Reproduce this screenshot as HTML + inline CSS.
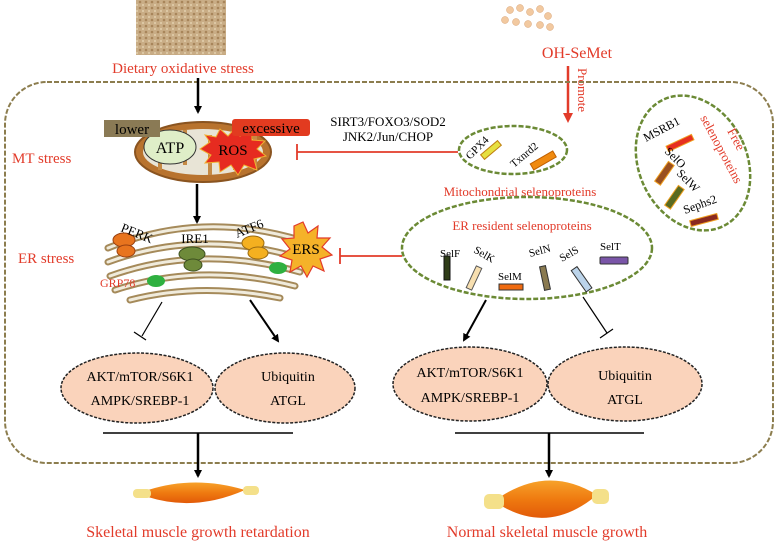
<!DOCTYPE html>
<html><head><meta charset="utf-8"><style>
html,body{margin:0;padding:0;background:#fff}
svg{display:block}
text{font-family:"Liberation Serif",serif}
.r{fill:#e23b2a}
</style></head><body>
<svg width="778" height="544" viewBox="0 0 778 544" xmlns="http://www.w3.org/2000/svg">
<defs>
<marker id="ab" markerWidth="8" markerHeight="8" refX="6" refY="4" orient="auto" markerUnits="userSpaceOnUse"><path d="M0,0 L8,4 L0,8 z" fill="#000"/></marker>
<marker id="ar" markerWidth="10" markerHeight="10" refX="7" refY="5" orient="auto" markerUnits="userSpaceOnUse"><path d="M0,0 L10,5 L0,10 z" fill="#e23b2a"/></marker>
<linearGradient id="mus" x1="0" y1="0" x2="0" y2="1"><stop offset="0" stop-color="#f7a22a"/><stop offset="0.5" stop-color="#ef7a10"/><stop offset="1" stop-color="#e25a08"/></linearGradient>
<pattern id="grain" width="6" height="6" patternUnits="userSpaceOnUse"><rect width="6" height="6" fill="#c9ad86"/><circle cx="2" cy="2" r="1.3" fill="#a8855a"/><circle cx="5" cy="5" r="1" fill="#e2cfae"/></pattern>
</defs>

<rect x="136" y="0" width="90" height="55" fill="url(#grain)"/>
<text x="183" y="73" class="r" font-size="15" text-anchor="middle">Dietary oxidative stress</text>
<g fill="#f2c9a0" stroke="#d9a070" stroke-width="0.5">
<circle cx="510" cy="10" r="3.5"/><circle cx="520" cy="8" r="3.5"/><circle cx="530" cy="12" r="3.5"/><circle cx="540" cy="9" r="3.5"/><circle cx="548" cy="16" r="3.5"/><circle cx="505" cy="20" r="3.5"/><circle cx="516" cy="22" r="3.5"/><circle cx="528" cy="24" r="3.5"/><circle cx="540" cy="25" r="3.5"/><circle cx="550" cy="27" r="3.5"/></g>
<text x="577" y="58" class="r" font-size="16" text-anchor="middle">OH-SeMet</text>
<line x1="568" y1="66" x2="568" y2="120" stroke="#e23b2a" stroke-width="2.5" marker-end="url(#ar)"/>
<text transform="translate(578,68) rotate(90)" class="r" font-size="13">Promote</text>

<rect x="5" y="82" width="768" height="381" rx="42" fill="none" stroke="#8c7d4e" stroke-width="2" stroke-dasharray="5,2"/>

<text x="12" y="163" class="r" font-size="15">MT stress</text>
<text x="18" y="263" class="r" font-size="15">ER stress</text>

<line x1="198" y1="78" x2="198" y2="112" stroke="#000" stroke-width="2.5" marker-end="url(#ab)"/>

<!-- mitochondrion -->
<ellipse cx="203" cy="152" rx="68" ry="30" fill="#b8732e" stroke="#8a5420" stroke-width="2"/>
<ellipse cx="203" cy="152" rx="60" ry="23" fill="#e8e4d6"/>
<g stroke="#c58a45" stroke-width="4"><line x1="160" y1="130" x2="160" y2="170"/><line x1="185" y1="130" x2="185" y2="165"/><line x1="210" y1="135" x2="210" y2="175"/><line x1="235" y1="130" x2="235" y2="170"/><line x1="255" y1="135" x2="255" y2="170"/></g>
<ellipse cx="170" cy="147" rx="26" ry="17" fill="#dfeec8" stroke="#333" stroke-width="1"/>
<text x="170" y="153" font-size="16" text-anchor="middle">ATP</text>
<polygon points="200,149 210,142 205,135 216,137 220,129 228,136 235,128 240,136 252,131 252,140 265,141 257,149 266,156 254,159 257,170 244,165 238,175 231,165 220,172 219,162 205,163 211,155" fill="#e62b20" stroke="#f2b030" stroke-width="1"/>
<text x="233" y="155" font-size="15" text-anchor="middle">ROS</text>
<rect x="104" y="120" width="56" height="17" fill="#8a7a55"/>
<text x="132" y="134" font-size="15" text-anchor="middle">lower</text>
<rect x="232" y="119" width="78" height="17" rx="3" fill="#e23b20"/>
<text x="271" y="133" font-size="15" text-anchor="middle">excessive</text>

<line x1="297" y1="152" x2="458" y2="152" stroke="#e23b2a" stroke-width="1.8"/>
<line x1="297" y1="144" x2="297" y2="160" stroke="#e23b2a" stroke-width="1.8"/>
<text x="388" y="126" font-size="13" text-anchor="middle">SIRT3/FOXO3/SOD2</text>
<text x="388" y="141" font-size="13" text-anchor="middle">JNK2/Jun/CHOP</text>

<line x1="197" y1="184" x2="197" y2="222" stroke="#000" stroke-width="2.5" marker-end="url(#ab)"/>

<!-- ER -->
<g fill="none" stroke="#a58a5a" stroke-width="7" stroke-linecap="round">
<path d="M108,248 Q200,210 300,240" /><path d="M108,262 Q200,228 300,258"/><path d="M110,276 Q200,244 300,272"/><path d="M115,290 Q200,262 295,286"/><path d="M130,300 Q200,282 280,298"/></g>
<g fill="none" stroke="#f0ebdc" stroke-width="3" stroke-linecap="round">
<path d="M108,248 Q200,210 300,240" /><path d="M108,262 Q200,228 300,258"/><path d="M110,276 Q200,244 300,272"/><path d="M115,290 Q200,262 295,286"/><path d="M130,300 Q200,282 280,298"/></g>
<ellipse cx="124" cy="240" rx="11" ry="7" fill="#e8741e" stroke="#994010"/>
<ellipse cx="126" cy="251" rx="9" ry="6" fill="#e8741e" stroke="#994010"/>
<ellipse cx="192" cy="254" rx="13" ry="7" fill="#6e8a3a" stroke="#3d5020"/>
<ellipse cx="193" cy="265" rx="9" ry="6" fill="#6e8a3a" stroke="#3d5020"/>
<ellipse cx="253" cy="243" rx="11" ry="7" fill="#f4b020" stroke="#9a6a10"/>
<ellipse cx="258" cy="253" rx="10" ry="6" fill="#f4b020" stroke="#9a6a10"/>
<ellipse cx="156" cy="281" rx="9" ry="6" fill="#2fb040"/>
<ellipse cx="278" cy="268" rx="9" ry="6" fill="#2fb040"/>
<text transform="translate(120,231) rotate(22)" font-size="13">PERK</text>
<text x="195" y="243" font-size="13" text-anchor="middle">IRE1</text>
<text transform="translate(237,238) rotate(-22)" font-size="13">ATF6</text>
<text x="100" y="287" class="r" font-size="12">GRP78</text>
<polygon points="303,222 308,233 318,226 317,238 330,238 322,247 332,255 320,259 324,271 313,266 307,277 301,266 290,272 292,260 280,256 290,249 282,239 294,238 294,226" fill="#f5b229" stroke="#e23b2a" stroke-width="1.2"/>
<text x="306" y="254" font-size="15" text-anchor="middle">ERS</text>
<line x1="340" y1="256" x2="402" y2="256" stroke="#e23b2a" stroke-width="1.8"/>
<line x1="340" y1="248" x2="340" y2="264" stroke="#e23b2a" stroke-width="1.8"/>

<!-- mito selenoproteins -->
<ellipse cx="513" cy="150" rx="54" ry="24" fill="none" stroke="#6b8a35" stroke-width="2.5" stroke-dasharray="5,2"/>
<text transform="translate(470,160) rotate(-45)" font-size="11">GPX4</text>
<rect x="480" y="147" width="22" height="6" fill="#e6e040" stroke="#c08010" transform="rotate(-40 491 150)"/>
<text transform="translate(514,168) rotate(-40)" font-size="11">Txnrd2</text>
<rect x="530" y="157" width="26" height="7" fill="#f08a10" stroke="#c06000" transform="rotate(-30 543 160)"/>
<text x="520" y="196" class="r" font-size="13" text-anchor="middle">Mitochondrial selenoproteins</text>

<!-- free -->
<ellipse cx="693" cy="163" rx="54" ry="70" fill="none" stroke="#6b8a35" stroke-width="2.5" stroke-dasharray="5,2" transform="rotate(-25 693 163)"/>
<text transform="translate(646,142) rotate(-28)" font-size="12">MSRB1</text>
<rect x="666" y="140" width="28" height="6" fill="#e63020" stroke="#f0a020" transform="rotate(-25 680 143)"/>
<text transform="translate(664,152) rotate(45)" font-size="12">SelO</text>
<rect x="652" y="170" width="24" height="7" fill="#9a5020" stroke="#f0a020" transform="rotate(-55 664 173)"/>
<text transform="translate(676,174) rotate(45)" font-size="12">SelW</text>
<rect x="662" y="194" width="24" height="7" fill="#5a6a20" stroke="#f0a020" transform="rotate(-55 674 197)"/>
<text transform="translate(685,214) rotate(-20)" font-size="12">Sephs2</text>
<rect x="690" y="217" width="28" height="6" fill="#8a2a20" stroke="#f0a020" transform="rotate(-15 704 220)"/>
<text transform="translate(727,131) rotate(62)" class="r" font-size="13">Free</text>
<text transform="translate(700,118) rotate(62)" class="r" font-size="13">selenoproteins</text>

<!-- ER selenoproteins -->
<ellipse cx="527" cy="248" rx="125" ry="51" fill="none" stroke="#6b8a35" stroke-width="2.5" stroke-dasharray="5,2"/>
<text x="522" y="230" class="r" font-size="13" text-anchor="middle">ER resident selenoproteins</text>
<text x="440" y="257" font-size="11">SelF</text>
<rect x="444" y="256" width="6" height="24" fill="#2f3d18" stroke="#111"/>
<text transform="translate(473,252) rotate(30)" font-size="11">SelK</text>
<rect x="471" y="266" width="6" height="24" fill="#f7dfb0" stroke="#555" transform="rotate(25 474 278)"/>
<text x="498" y="280" font-size="11">SelM</text>
<rect x="499" y="284" width="24" height="6" fill="#ef6a10" stroke="#333"/>
<text transform="translate(530,257) rotate(-15)" font-size="11">SelN</text>
<rect x="542" y="266" width="6" height="24" fill="#8a7a50" stroke="#333" transform="rotate(-12 545 278)"/>
<text transform="translate(562,262) rotate(-30)" font-size="11">SelS</text>
<rect x="578" y="266" width="7" height="26" fill="#bcd4ea" stroke="#333" transform="rotate(-35 582 279)"/>
<text x="600" y="250" font-size="11">SelT</text>
<rect x="600" y="257" width="28" height="7" rx="1" fill="#7a55a8" stroke="#333"/>

<!-- left pathway -->
<line x1="162" y1="302" x2="142" y2="336" stroke="#000" stroke-width="1.2"/>
<line x1="134" y1="332" x2="146" y2="340" stroke="#000" stroke-width="1.2"/>
<line x1="250" y1="300" x2="278" y2="341" stroke="#000" stroke-width="2" marker-end="url(#ab)"/>
<ellipse cx="137" cy="388" rx="76" ry="35" fill="#fad3bb" stroke="#222" stroke-width="1.5" stroke-dasharray="3,1.5"/>
<ellipse cx="285" cy="388" rx="70" ry="35" fill="#fad3bb" stroke="#222" stroke-width="1.5" stroke-dasharray="3,1.5"/>
<text x="140" y="381" font-size="14" text-anchor="middle">AKT/mTOR/S6K1</text>
<text x="140" y="405" font-size="14" text-anchor="middle">AMPK/SREBP-1</text>
<text x="288" y="381" font-size="14" text-anchor="middle">Ubiquitin</text>
<text x="288" y="405" font-size="14" text-anchor="middle">ATGL</text>
<line x1="103" y1="433" x2="293" y2="433" stroke="#000" stroke-width="1.5"/>
<line x1="198" y1="433" x2="198" y2="476" stroke="#000" stroke-width="2.5" marker-end="url(#ab)"/>

<!-- right pathway -->
<line x1="486" y1="300" x2="464" y2="340" stroke="#000" stroke-width="2" marker-end="url(#ab)"/>
<line x1="583" y1="297" x2="607" y2="333" stroke="#000" stroke-width="1.2"/>
<line x1="600" y1="338" x2="613" y2="329" stroke="#000" stroke-width="1.2"/>
<ellipse cx="470" cy="384" rx="77" ry="37" fill="#fad3bb" stroke="#222" stroke-width="1.5" stroke-dasharray="3,1.5"/>
<ellipse cx="625" cy="384" rx="77" ry="37" fill="#fad3bb" stroke="#222" stroke-width="1.5" stroke-dasharray="3,1.5"/>
<text x="470" y="377" font-size="14" text-anchor="middle">AKT/mTOR/S6K1</text>
<text x="470" y="402" font-size="14" text-anchor="middle">AMPK/SREBP-1</text>
<text x="625" y="380" font-size="14" text-anchor="middle">Ubiquitin</text>
<text x="625" y="404" font-size="14" text-anchor="middle">ATGL</text>
<line x1="455" y1="433" x2="644" y2="433" stroke="#000" stroke-width="1.5"/>
<line x1="549" y1="433" x2="549" y2="476" stroke="#000" stroke-width="2.5" marker-end="url(#ab)"/>

<!-- muscles -->
<path d="M148,490 Q195,475 245,490 Q195,512 148,497 z" fill="url(#mus)"/>
<rect x="133" y="489" width="18" height="9" rx="4" fill="#f4e08a"/>
<rect x="243" y="486" width="16" height="9" rx="4" fill="#f4e08a"/>
<path d="M500,497 Q549,465 597,495 Q549,535 500,505 z" fill="url(#mus)"/>
<rect x="484" y="494" width="20" height="15" rx="5" fill="#f4e08a"/>
<rect x="592" y="489" width="17" height="15" rx="5" fill="#f4e08a"/>

<text x="198" y="537" class="r" font-size="16" text-anchor="middle">Skeletal muscle growth retardation</text>
<text x="547" y="537" class="r" font-size="16" text-anchor="middle">Normal skeletal muscle growth</text>
</svg>
</body></html>
